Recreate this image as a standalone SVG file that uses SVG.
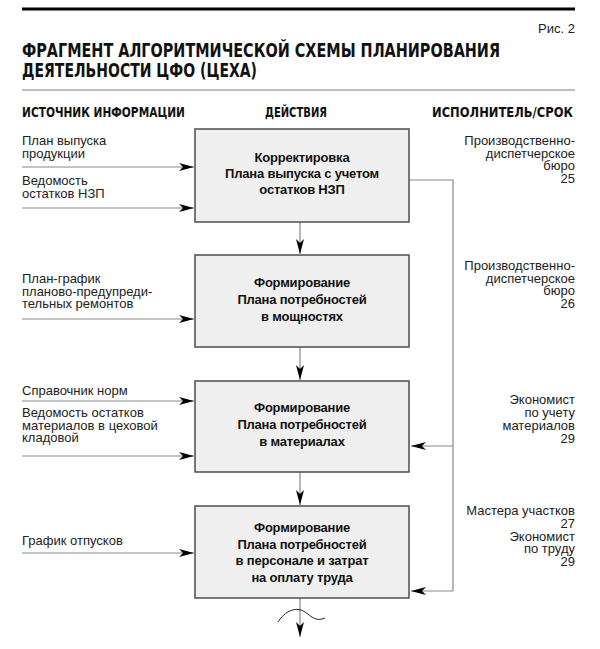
<svg xmlns="http://www.w3.org/2000/svg" width="600" height="649" viewBox="0 0 600 649">
<defs>
<marker id="ah" markerUnits="userSpaceOnUse" markerWidth="15" markerHeight="8" viewBox="0 0 15 8" refX="15" refY="4" orient="auto"><path d="M0,0 L15,4 L0,8 L4,4 Z" fill="#000"/></marker>
<style>
.t{font-family:"Liberation Sans",Arial,sans-serif;font-size:13px;fill:#222}
.r{text-anchor:end}
.b{font-family:"Liberation Sans",Arial,sans-serif;font-size:13px;letter-spacing:-0.2px;font-weight:bold;fill:#111;text-anchor:middle}
.h{font-family:"DejaVu Sans Condensed","Liberation Sans",sans-serif;font-weight:bold;fill:#111}
.box{fill:#efefef;stroke:#4d4d4d;stroke-width:1.5}
.c{fill:none;stroke:#888;stroke-width:1.2}
.a{marker-end:url(#ah)}
</style>
</defs>
<rect width="600" height="649" fill="#fff"/>
<g id="header">
<line x1="22" y1="9" x2="575" y2="9" stroke="#000" stroke-width="3"/>
<text class="t r" x="575" y="33" font-size="12">Рис. 2</text>
<text class="h" x="22" y="57" font-size="19" textLength="478" lengthAdjust="spacingAndGlyphs">ФРАГМЕНТ АЛГОРИТМИЧЕСКОЙ СХЕМЫ ПЛАНИРОВАНИЯ</text>
<text class="h" x="22" y="77" font-size="19" textLength="235" lengthAdjust="spacingAndGlyphs">ДЕЯТЕЛЬНОСТИ ЦФО (ЦЕХА)</text>
<line x1="22" y1="90" x2="575" y2="90" stroke="#aaa" stroke-width="1.5"/>
<text class="h" x="22" y="117" font-size="13.5" textLength="163" lengthAdjust="spacingAndGlyphs">ИСТОЧНИК ИНФОРМАЦИИ</text>
<text class="h" x="265" y="117" font-size="13.5" textLength="62" lengthAdjust="spacingAndGlyphs">ДЕЙСТВИЯ</text>
<text class="h" x="432" y="117" font-size="13.5" textLength="141" lengthAdjust="spacingAndGlyphs">ИСПОЛНИТЕЛЬ/СРОК</text>
</g>
<g id="connectors">
<line class="c a" x1="22" y1="167" x2="194" y2="167"/>
<line class="c a" x1="22" y1="208" x2="194" y2="208"/>
<line class="c a" x1="22" y1="319" x2="194" y2="319"/>
<line class="c a" x1="22" y1="401" x2="194" y2="401"/>
<line class="c a" x1="22" y1="456" x2="194" y2="456"/>
<line class="c a" x1="22" y1="553" x2="194" y2="553"/>
<line class="c a" x1="300" y1="222" x2="300" y2="254"/>
<line class="c a" x1="300" y1="347" x2="300" y2="380"/>
<line class="c a" x1="300" y1="472" x2="300" y2="505"/>
<polyline class="c" points="409,180 453,180 453,591"/>
<line class="c a" x1="453" y1="446" x2="411" y2="446"/>
<line class="c a" x1="453" y1="591" x2="411" y2="591"/>
<line class="c a" x1="300" y1="598" x2="300" y2="637"/>
<path d="M278,622 C285,611 296,606 305,612 C312,617 316,622 325,618" fill="none" stroke="#222" stroke-width="1"/>
</g>
<g id="box1">
<rect class="box" x="195" y="129" width="214" height="93"/>
<text class="b" x="302" y="162">Корректировка</text>
<text class="b" x="302" y="178">Плана выпуска с учетом</text>
<text class="b" x="302" y="194">остатков НЗП</text>
</g>
<g id="box2">
<rect class="box" x="195" y="255" width="214" height="92"/>
<text class="b" x="302" y="287">Формирование</text>
<text class="b" x="302" y="304">Плана потребностей</text>
<text class="b" x="302" y="321">в мощностях</text>
</g>
<g id="box3">
<rect class="box" x="195" y="381" width="214" height="91"/>
<text class="b" x="302" y="412">Формирование</text>
<text class="b" x="302" y="429">Плана потребностей</text>
<text class="b" x="302" y="446">в материалах</text>
</g>
<g id="box4">
<rect class="box" x="195" y="506" width="214" height="92"/>
<text class="b" x="302" y="532">Формирование</text>
<text class="b" x="302" y="548.5">Плана потребностей</text>
<text class="b" x="302" y="565">в персонале и затрат</text>
<text class="b" x="302" y="581.5">на оплату труда</text>
</g>
<g id="sources">
<text class="t" x="22" y="145">План выпуска</text>
<text class="t" x="22" y="157.5">продукции</text>
<text class="t" x="22" y="185">Ведомость</text>
<text class="t" x="22" y="197.5">остатков НЗП</text>
<text class="t" x="22" y="283">План-график</text>
<text class="t" x="22" y="295.5">планово-предупреди-</text>
<text class="t" x="22" y="308">тельных ремонтов</text>
<text class="t" x="22" y="395">Справочник норм</text>
<text class="t" x="22" y="417">Ведомость остатков</text>
<text class="t" x="22" y="429.5">материалов в цеховой</text>
<text class="t" x="22" y="442">кладовой</text>
<text class="t" x="22" y="545">График отпусков</text>
</g>
<g id="executors">
<text class="t r" x="575" y="145">Производственно-</text>
<text class="t r" x="575" y="157.5">диспетчерское</text>
<text class="t r" x="575" y="170">бюро</text>
<text class="t r" x="575" y="182.5">25</text>
<text class="t r" x="575" y="270">Производственно-</text>
<text class="t r" x="575" y="282.5">диспетчерское</text>
<text class="t r" x="575" y="295">бюро</text>
<text class="t r" x="575" y="307.5">26</text>
<text class="t r" x="575" y="404">Экономист</text>
<text class="t r" x="575" y="417">по учету</text>
<text class="t r" x="575" y="430">материалов</text>
<text class="t r" x="575" y="443">29</text>
<text class="t r" x="575" y="515">Мастера участков</text>
<text class="t r" x="575" y="528">27</text>
<text class="t r" x="575" y="540.5">Экономист</text>
<text class="t r" x="575" y="553">по труду</text>
<text class="t r" x="575" y="566">29</text>
</g>
</svg>
